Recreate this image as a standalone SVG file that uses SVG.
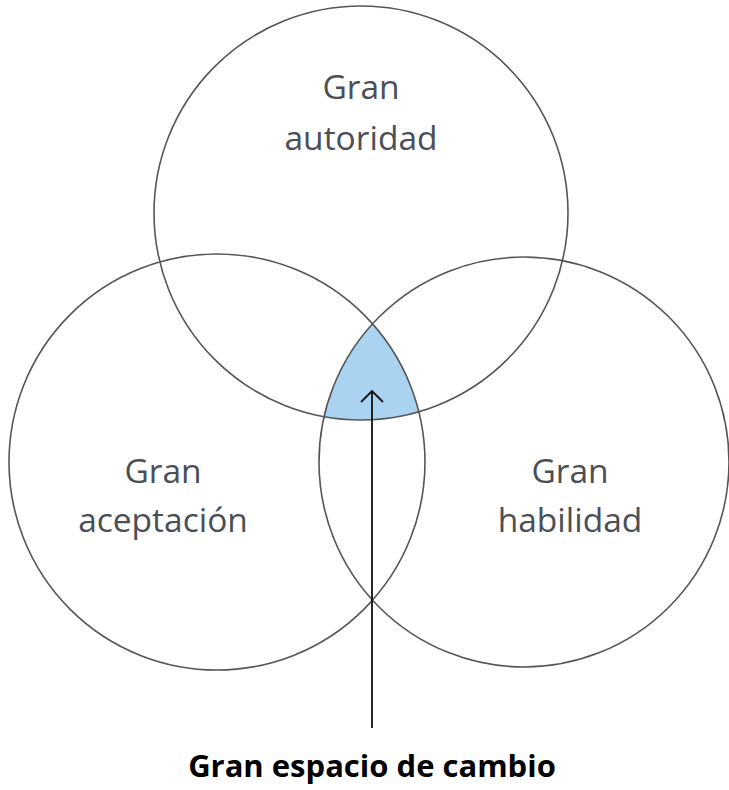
<svg xmlns="http://www.w3.org/2000/svg" width="729" height="790" viewBox="0 0 729 790">
<style>
.c{fill:none;stroke:#555;stroke-width:1.6}
.t{font-family:"Open Sans","Noto Sans",sans-serif;font-size:33.5px;fill:#4a4f57;text-anchor:middle}
.b{font-family:"Open Sans","Noto Sans",sans-serif;font-size:31px;font-weight:bold;fill:#000;text-anchor:middle}
</style>
<defs>
<clipPath id="cL"><circle cx="217" cy="462" r="208"/></clipPath>
<clipPath id="cR"><circle cx="524" cy="462" r="205"/></clipPath>
</defs>
<rect width="729" height="790" fill="#fff"/>
<g id="intersection" clip-path="url(#cL)"><g clip-path="url(#cR)"><circle cx="361" cy="213" r="207" fill="#a9d3f1"/></g></g>
<g id="autoridad">
<circle class="c" cx="361" cy="213" r="207"/>
<text class="t" x="361" y="99">Gran</text>
<text class="t" x="361" y="150">autoridad</text>
</g>
<g id="aceptacion">
<circle class="c" cx="217" cy="462" r="208"/>
<text class="t" x="163" y="483">Gran</text>
<text class="t" x="163" y="532">aceptación</text>
</g>
<g id="habilidad">
<circle class="c" cx="524" cy="462" r="205"/>
<text class="t" x="570" y="483">Gran</text>
<text class="t" x="570" y="532">habilidad</text>
</g>
<g id="connectors">
<line x1="372" y1="728" x2="372" y2="391" stroke="#111" stroke-width="1.8"/>
<path d="M361,402 L372,391 L383,402" fill="none" stroke="#111" stroke-width="1.8"/>
</g>
<g id="label">
<text class="b" x="372" y="777">Gran espacio de cambio</text>
</g>
</svg>
